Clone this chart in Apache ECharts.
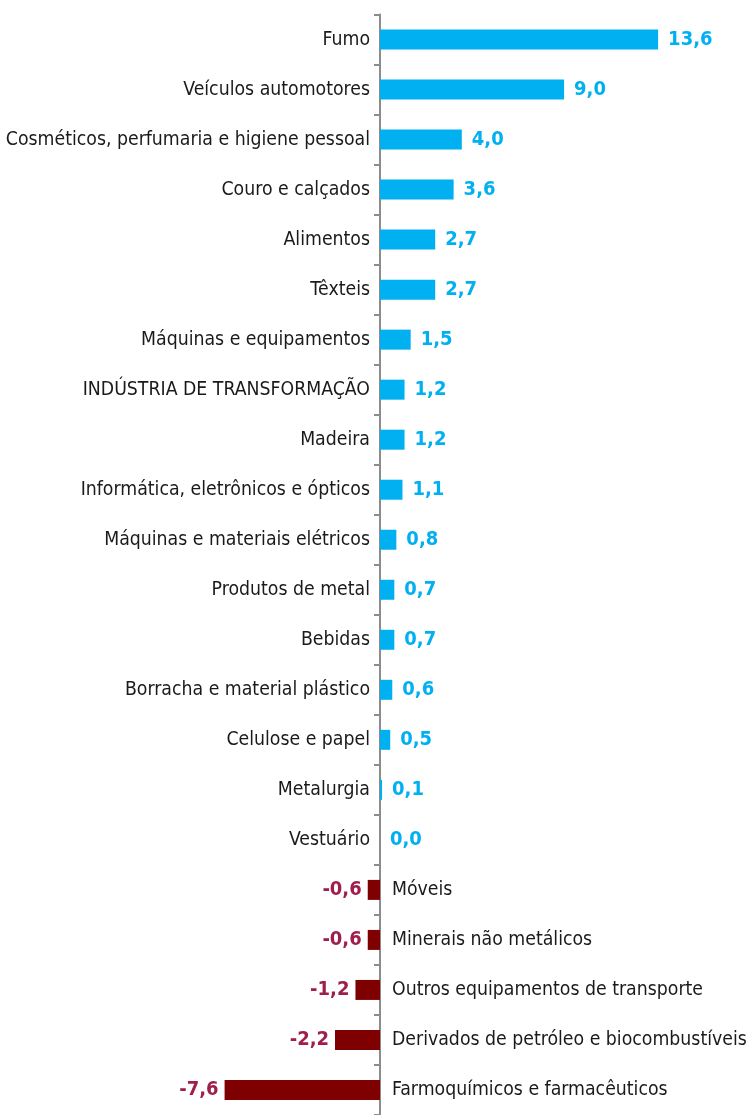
<!DOCTYPE html>
<html>
<head>
<meta charset="utf-8">
<script src="https://cdn.jsdelivr.net/npm/echarts@6/dist/echarts.min.js"></script>
<style>
  html, body { margin: 0; padding: 0; background: #fff; }
  #chart { width: 750px; height: 1115px; }
</style>
</head>
<body>
<div id="chart"></div>
<script type="text/javascript">
  // categories, top to bottom
  var categories = [
    'Fumo',
    'Veículos automotores',
    'Cosméticos, perfumaria e higiene pessoal',
    'Couro e calçados',
    'Alimentos',
    'Têxteis',
    'Máquinas e equipamentos',
    'INDÚSTRIA DE TRANSFORMAÇÃO',
    'Madeira',
    'Informática, eletrônicos e ópticos',
    'Máquinas e materiais elétricos',
    'Produtos de metal',
    'Bebidas',
    'Borracha e material plástico',
    'Celulose e papel',
    'Metalurgia',
    'Vestuário',
    'Móveis',
    'Minerais não metálicos',
    'Outros equipamentos de transporte',
    'Derivados de petróleo e biocombustíveis',
    'Farmoquímicos e farmacêuticos'
  ];
  var values = [13.6, 9.0, 4.0, 3.6, 2.7, 2.7, 1.5, 1.2, 1.2, 1.1, 0.8, 0.7, 0.7, 0.6, 0.5, 0.1, 0.0,
    -0.6, -0.6, -1.2, -2.2, -7.6];

  var FONT = '"DejaVu Sans Condensed", "Liberation Sans Narrow", "Noto Sans", sans-serif';
  var BLUE = '#00B0F0';
  var RED_BAR = '#7F0000';
  var RED_TXT = '#A01E4E';

  function fmt(v) {
    return v.toFixed(1).replace('.', ',');
  }

  // bars with value labels
  var barData = values.map(function (v) {
    var neg = v < 0;
    return {
      value: v,
      itemStyle: { color: neg ? RED_BAR : BLUE },
      label: {
        position: neg ? 'left' : 'right',
        distance: neg ? 6 : 10,
        color: neg ? RED_TXT : BLUE
      }
    };
  });

  // transparent copy that carries the category names
  var nameData = values.map(function (v) {
    var neg = v < 0;
    return {
      value: v,
      label: {
        position: neg ? 'right' : 'left',
        distance: neg ? 12 : 10
      }
    };
  });

  var myChart = echarts.init(document.getElementById('chart'));

  var option = {
    animation: false,
    grid: {
      left: 216.4,
      right: 83.7,
      top: 14.5,
      bottom: -3.5
    },
    xAxis: {
      type: 'value',
      min: -8,
      max: 14,
      show: false
    },
    yAxis: {
      type: 'category',
      data: categories,
      inverse: true,
      axisLine: { onZero: true, lineStyle: { color: '#8C8C8C', width: 2 } },
      axisTick: { show: true, length: 6, lineStyle: { color: '#8C8C8C', width: 2 } },
      axisLabel: { show: false }
    },
    series: [
      {
        name: 'valor',
        type: 'bar',
        barWidth: 20,
        data: barData,
        label: {
          show: true,
          fontFamily: FONT,
          fontWeight: 'bold',
          fontSize: 20,
          formatter: function (p) { return fmt(p.value); }
        },
        silent: true
      },
      {
        name: 'nome',
        type: 'bar',
        barWidth: 20,
        barGap: '-100%',
        data: nameData,
        itemStyle: { color: 'rgba(0,0,0,0)' },
        label: {
          show: true,
          fontFamily: FONT,
          fontSize: 19.3,
          color: '#1a1a1a',
          formatter: function (p) { return categories[p.dataIndex]; }
        },
        silent: true
      }
    ]
  };

  myChart.setOption(option);

  window.onresize = function () {
    myChart.resize();
  };
</script>
</body>
</html>
